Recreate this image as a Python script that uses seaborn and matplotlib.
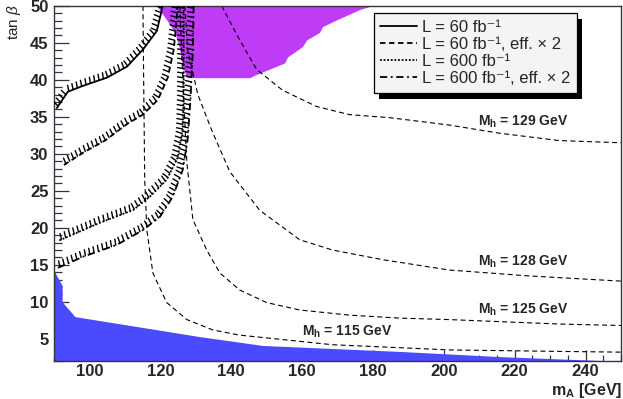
import numpy as np
import pandas as pd
import matplotlib
matplotlib.use("Agg")
import matplotlib.pyplot as plt
import matplotlib.patheffects as pe
from matplotlib.patches import Rectangle
from matplotlib.ticker import MultipleLocator
import seaborn as sns

# Mh iso-contours (mA, tan beta)
mh115_x = [115.1, 115.3, 115.6, 116.2, 117.9, 121.8, 127.5, 134.8, 142.4, 154.5, 168.6, 187.5, 201.5, 232.5, 250.0]
mh115_y = [50.0, 40.0, 26.5, 19.7, 13.9, 9.9, 7.6, 6.2, 5.5, 4.9, 4.2, 3.8, 3.5, 3.3, 3.2]
mh125_x = [125.5, 126.6, 127.5, 129.2, 133.1, 136.8, 142.4, 150.0, 159.3, 173.4, 187.5, 201.5, 232.5, 250.0]
mh125_y = [50.0, 37.3, 28.8, 21.1, 17.0, 13.9, 11.6, 9.9, 8.9, 8.2, 7.8, 7.6, 7.0, 6.8]
mh128_x = [126.9, 127.7, 130.6, 134.5, 139.6, 148.0, 159.3, 168.6, 182.7, 201.5, 224.1, 250.0]
mh128_y = [50.0, 44.1, 38.0, 33.2, 27.6, 22.4, 18.4, 17.0, 15.7, 14.3, 13.5, 12.8]
mh129_x = [137.3, 142.4, 147.2, 154.5, 164.1, 173.4, 184.6, 201.5, 215.6, 232.5, 250.0]
mh129_y = [50.0, 45.4, 41.4, 38.6, 36.4, 35.3, 34.9, 33.9, 32.8, 31.8, 31.5]

# reach curves
l60_x = [90.8, 93.9, 98.2, 104.9, 110.6, 115.1, 119.0, 120.2, 120.6]
l60_y = [36.2, 38.4, 39.2, 40.3, 41.8, 44.1, 46.6, 49.0, 50.0]
l60e_x = [92.8, 98.7, 104.4, 110.8, 115.1, 119.3, 122.1, 123.8, 124.6, 124.9]
l60e_y = [28.5, 30.3, 31.8, 34.1, 35.3, 37.3, 40.3, 44.1, 48.1, 50.0]
l600_x = [91.5, 103.0, 112.3, 117.0, 121.8, 124.9, 126.3, 126.6, 126.6, 126.6]
l600_y = [18.3, 20.7, 22.4, 24.2, 26.5, 29.5, 33.2, 38.6, 45.4, 50.0]
l600e_x = [91.1, 98.2, 107.7, 115.1, 119.9, 123.5, 126.3, 127.7, 128.5, 129.2, 129.4]
l600e_y = [14.6, 16.1, 17.7, 19.7, 21.5, 24.2, 27.8, 31.9, 37.3, 44.1, 50.0]

# excluded regions
purple_x = [119.0, 121.8, 124.1, 125.5, 126.3, 127.5, 145.2, 147.0, 155.1, 155.9, 160.1, 161.3, 164.9, 165.8, 169.7, 176.2, 179.6]
purple_y = [50.0, 48.1, 46.4, 44.1, 41.8, 40.3, 40.3, 40.7, 42.3, 43.1, 44.5, 45.4, 46.4, 47.2, 48.1, 49.5, 50.0]
blue_x = [90.0, 92.3, 92.3, 95.9, 131.1, 148.9, 187.5, 215.6, 248.0, 250.0]
blue_y = [14.2, 12.2, 10.0, 8.0, 5.3, 4.1, 3.3, 2.6, 2.0, 2.0]

labels = ["L = 60 fb⁻¹", "L = 60 fb⁻¹, eff. × 2",
          "L = 600 fb⁻¹", "L = 600 fb⁻¹, eff. × 2"]
mh_labels = ["115", "125", "128", "129"]
mh_label_pos = [(172.8, 5.9), (222.4, 8.9), (222.4, 15.4), (222.4, 34.3)]

sns.set_style("ticks")
plt.rcParams["font.family"] = ["Liberation Sans", "DejaVu Sans"]
plt.rcParams["mathtext.fontset"] = "custom"
plt.rcParams["mathtext.rm"] = "Liberation Sans"
plt.rcParams["mathtext.bf"] = "Liberation Sans:bold"
plt.rcParams["mathtext.it"] = "Liberation Sans:italic"

fig = plt.figure(figsize=(6.23, 3.99), dpi=100)
ax = fig.add_axes([0.0867, 0.0952, 0.910, 0.890])

ax.fill_between(purple_x, purple_y, 50, color="#bf3cf7", lw=0, zorder=1)
ax.fill_between(blue_x, blue_y, 2, color="#4a4aff", lw=0, zorder=1)

for cx, cy in [(mh115_x, mh115_y), (mh125_x, mh125_y), (mh128_x, mh128_y), (mh129_x, mh129_y)]:
    sns.lineplot(x=cx, y=cy, sort=False, estimator=None, color="k", lw=0.8, ax=ax, zorder=2)
    ax.lines[-1].set_dashes([4.5, 3])

styles = ["-", (0, (3, 2)), (0, (1, 1)), (0, (4, 2, 1, 2))]
curves = [(l60_x, l60_y), (l60e_x, l60e_y), (l600_x, l600_y), (l600e_x, l600e_y)]
handles = []
for (cx, cy), ls, lab in zip(curves, styles, labels):
    sns.lineplot(x=cx, y=cy, sort=False, estimator=None, color="k", lw=1.3, ax=ax, zorder=3)
    ln = ax.lines[-1]
    ln.set_linestyle(ls)
    ln.set_label(lab)
    handles.append(ln)
    # hatch band on the excluded side
    sns.lineplot(x=cx, y=cy, sort=False, estimator=None, color="k", lw=1.0, ax=ax, zorder=3)
    ax.lines[-1].set_path_effects([pe.TickedStroke(spacing=3.3, length=1.35, angle=80, linewidth=1.0)])

for m, (tx, ty) in zip(mh_labels, mh_label_pos):
    ax.text(tx, ty, r"M$_{\mathbf{h}}$ = " + m + " GeV", ha="center", va="center",
            fontsize=10, fontweight="bold", zorder=4)

ax.set_xlim(90, 250)
ax.set_ylim(2, 50)
ax.xaxis.set_major_locator(MultipleLocator(20))
ax.xaxis.set_minor_locator(MultipleLocator(5))
ax.yaxis.set_major_locator(MultipleLocator(5))
ax.yaxis.set_minor_locator(MultipleLocator(1))
ax.set_xticks(range(100, 241, 20))
ax.tick_params(which="both", direction="in", color="#333344", width=0.9)
ax.tick_params(axis="y", which="major", length=11, pad=4)
ax.tick_params(axis="y", which="minor", length=6)
ax.tick_params(axis="x", which="major", length=8, pad=2.5)
ax.tick_params(axis="x", which="minor", length=4)
for t in ax.get_xticklabels() + ax.get_yticklabels():
    t.set_fontweight("bold")
    t.set_fontsize(12)
for s in ax.spines.values():
    s.set_visible(True)
    s.set_color("#333344")
    s.set_linewidth(1.0)
ax.set_xlabel("")
ax.set_ylabel("")

fig.text(0.022, 0.99, r"tan $\beta$", rotation=90, ha="center", va="top", fontsize=11)
fig.text(0.998, 0.009, r"m$_{\mathbf{A}}$ [GeV]", ha="right", va="baseline",
         fontsize=11.5, fontweight="bold")

leg = ax.legend(handles=handles, labels=labels, loc="upper left", bbox_to_anchor=(0.564, 0.98),
                borderaxespad=0, frameon=True, fancybox=False, framealpha=1,
                fontsize=12, handlelength=2.2, labelspacing=0.13, borderpad=0.4,
                handletextpad=0.3)
leg.get_frame().set_facecolor("#f4f4f4")
leg.get_frame().set_edgecolor("black")
leg.get_frame().set_linewidth(0.9)
leg.set_zorder(6)

# black drop shadow like the original
fig.canvas.draw()
bb = leg.get_window_extent()
ax.add_patch(Rectangle((bb.x0 + 5, bb.y0 - 6), bb.width, bb.height, transform=None,
                       facecolor="black", edgecolor="none", zorder=5, clip_on=False))

fig.savefig("out.png", dpi=100)
